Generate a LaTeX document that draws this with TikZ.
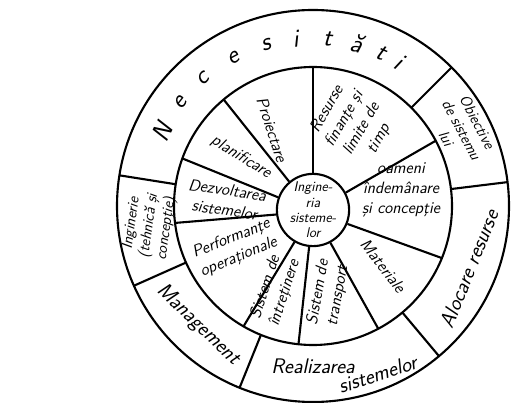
\documentclass[tikz,border=0pt]{standalone}
\usepackage{fontspec}
\usepackage{tikz}
\usetikzlibrary{positioning}

\begin{document}
\begin{tikzpicture}[x=0.03cm, y=0.03cm, line width=1.8pt,
  sector/.style={font=\sffamily\slshape\fontsize{14}{17}\selectfont, align=center, inner sep=1pt},
  hubbox/.style={draw, circle, minimum size=2.16cm, inner sep=0pt, align=center, font=\sffamily\slshape\fontsize{12}{13}\selectfont},
  ringtext/.style={font=\sffamily\slshape\fontsize{18}{20}\selectfont, align=center, inner sep=1pt},
  ringsmall/.style={font=\sffamily\slshape\fontsize{13}{15}\selectfont, align=center, inner sep=1pt},
  letter/.style={font=\sffamily\slshape\fontsize{22}{24}\selectfont, inner sep=0pt}]
\useasboundingbox (-313,-197) rectangle (198,206);
% outer and middle ring
\draw (0,0) circle (196);
\draw (0,0) circle (139);
\node (hub) [hubbox] at (0,-4) {Ingine-\\ria\\sisteme-\\lor};
% spokes of the inner wheel
\foreach \a in {90,130,160,187,240,264,298,338,28}
  \draw (hub.\a) -- (\a:139);
% dividers of the outer ring
\foreach \a in {7,45,171,204,248,310}
  \draw (\a:139) -- (\a:196);
% inner sectors
\node (proj) [sector, rotate=-72] at (-41,76) {Proiectare};
\node (plan) [sector, rotate=-32] at (-72,49) {planificare};
\node (dezv) [sector, rotate=-8] at (-87,6) {Dezvoltarea\\sistemelor};
\node (perf) [sector, rotate=22] at (-78,-42) {Performanţe\\operaţionale};
\node (intr) [sector, rotate=72] at (-38,-84) {Sistem de\\întreţinere};
\node (trans) [sector, rotate=80] at (15,-88) {Sistem de\\transport};
\node (mat) [sector, rotate=-52] at (70,-60) {Materiale};
\node (oam) [sector] at (88,16) {oameni\\îndemânare\\şi concepţie};
\node (res) [sector, rotate=60] at (40,82) {Resurse\\finanţe şi\\limite de\\timp};
% outer ring
\foreach \a/\c in {154/N,142/e,131/c,118/e,106/s,96/i,85/t,75/ă,66/t,59/i}
  \node (nec\a) [letter, rotate=\a-90] at (\a:168) {\c};
\node (obj) [ringsmall, rotate=-62] at (27:167) {Obiective\\de sistemu\\lui};
\node (aloc) [ringtext, rotate=68] at (338:168) {Alocare resurse};
\node (real) [ringtext] at (270:160) {Realizarea};
\node (sist) [ringtext, rotate=18] at (291:180) {sistemelor};
\node (mgmt) [ringtext, rotate=-44] at (226:165) {Management};
\node (ing) [ringsmall, rotate=82] at (187:165) {Inginerie\\(tehnică şi\\concepţie)};
\end{tikzpicture}
\end{document}
